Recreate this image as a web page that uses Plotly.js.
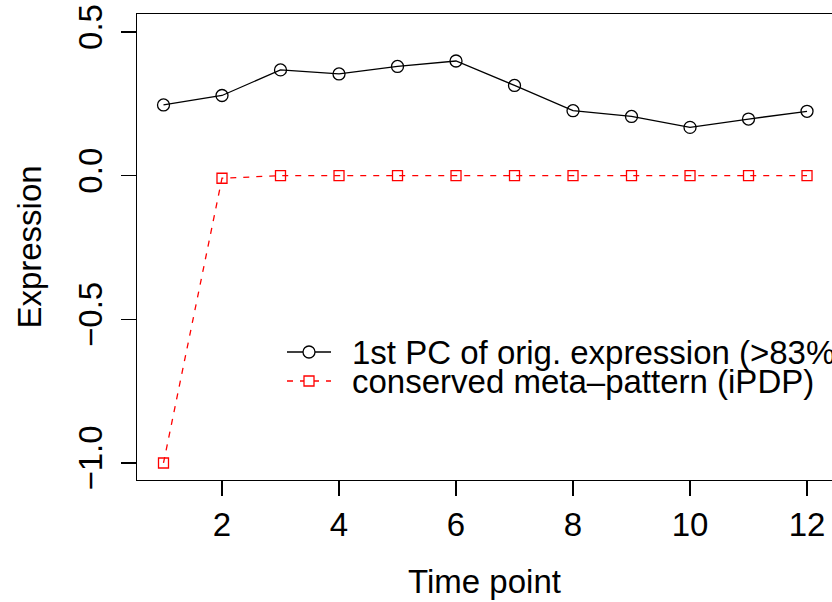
<!DOCTYPE html>
<html>
<head>
<meta charset="utf-8">
<script src="https://cdn.plot.ly/plotly-3.0.1.min.js"></script>
<style>html,body{margin:0;padding:0;background:#fff;}#chart{width:832px;height:602px;}</style>
</head>
<body>
<div id="chart"></div>
<script>
const timePoints = [1,2,3,4,5,6,7,8,9,10,11,12];
const pcExpression = [0.246,0.279,0.368,0.354,0.380,0.399,0.314,0.226,0.206,0.168,0.197,0.224];
const metaPattern = [-1.0,-0.009,0,0,0,0,0,0,0,0,0,0];
const seriesNames = ["1st PC of orig. expression (>83%)", "conserved meta\u2013pattern (iPDP)"];
const xTicks = [2,4,6,8,10,12];
const yTicks = [-1.0,-0.5,0.0,0.5];
const yTickText = ["\u22121.0","\u22120.5","0.0","0.5"];

const FONT = "Liberation Sans, Arial, Helvetica, sans-serif";
const traces = [
  {x: timePoints, y: pcExpression, name: seriesNames[0], type: "scatter", mode: "lines+markers",
   line: {color: "black", width: 1.3},
   marker: {symbol: "circle-open", size: 12, color: "black", line: {width: 1.3, color: "black"}},
   cliponaxis: false, showlegend: false},
  {x: timePoints, y: metaPattern, name: seriesNames[1], type: "scatter", mode: "lines+markers",
   line: {color: "red", width: 1.3, dash: "6px,7px"},
   marker: {symbol: "square-open", size: 10, color: "red", line: {width: 1.3, color: "red"}},
   cliponaxis: false, showlegend: false}
];

// legend (manual, R style)
const L = 137, T = 14, W = 695, H = 466;
const px = v => (v - L) / W, py = v => (T + H - v) / H;
const rows = [352, 381];
const shapes = [
  {type: "line", xref: "paper", yref: "paper", x0: px(287), x1: px(331), y0: py(rows[0]), y1: py(rows[0]), line: {color: "black", width: 1.3}},
  {type: "circle", xref: "paper", yref: "paper", xsizemode: "pixel", ysizemode: "pixel", xanchor: px(309), yanchor: py(rows[0]), x0: -6, x1: 6, y0: -6, y1: 6, line: {color: "black", width: 1.3}, fillcolor: "white"},
  {type: "line", xref: "paper", yref: "paper", x0: px(287), x1: px(331), y0: py(rows[1]), y1: py(rows[1]), line: {color: "red", width: 1.3, dash: "6px,7px"}},
  {type: "rect", xref: "paper", yref: "paper", xsizemode: "pixel", ysizemode: "pixel", xanchor: px(309), yanchor: py(rows[1]), x0: -5, x1: 5, y0: -5, y1: 5, line: {color: "red", width: 1.3}, fillcolor: "white"}
];
const annotations = seriesNames.map((s, i) => ({
  xref: "paper", yref: "paper", x: px(350), y: py(rows[i]), xanchor: "left", yanchor: "middle",
  text: s, showarrow: false, font: {family: FONT, size: 33, color: "black"}
}));

const layout = {
  width: 832, height: 602,
  margin: {l: L, r: 0, t: T, b: 602 - T - H, pad: 0},
  paper_bgcolor: "white", plot_bgcolor: "white",
  showlegend: false,
  font: {family: FONT, size: 33, color: "black"},
  xaxis: {range: [0.547, 12.427], tickvals: xTicks, ticks: "outside", ticklen: 15, tickwidth: 1.3, tickcolor: "black",
          showline: true, linecolor: "black", linewidth: 1.3, mirror: true, showgrid: false, zeroline: false,
          tickfont: {family: FONT, size: 33}, ticklabelstandoff: 0,
          title: {text: "Time point", font: {family: FONT, size: 33}, standoff: 28}},
  yaxis: {range: [-1.0592, 0.5626], tickvals: yTicks, ticktext: yTickText, tickangle: -90, ticks: "outside", ticklen: 15, tickwidth: 1.3, tickcolor: "black",
          showline: true, linecolor: "black", linewidth: 1.3, mirror: false, showgrid: false, zeroline: false,
          tickfont: {family: FONT, size: 33}, ticklabelstandoff: 6,
          title: {text: "Expression", font: {family: FONT, size: 33}, standoff: 20}},
  shapes: shapes,
  annotations: annotations
};
Plotly.newPlot("chart", traces, layout, {displayModeBar: false, staticPlot: true});
</script>
</body>
</html>
